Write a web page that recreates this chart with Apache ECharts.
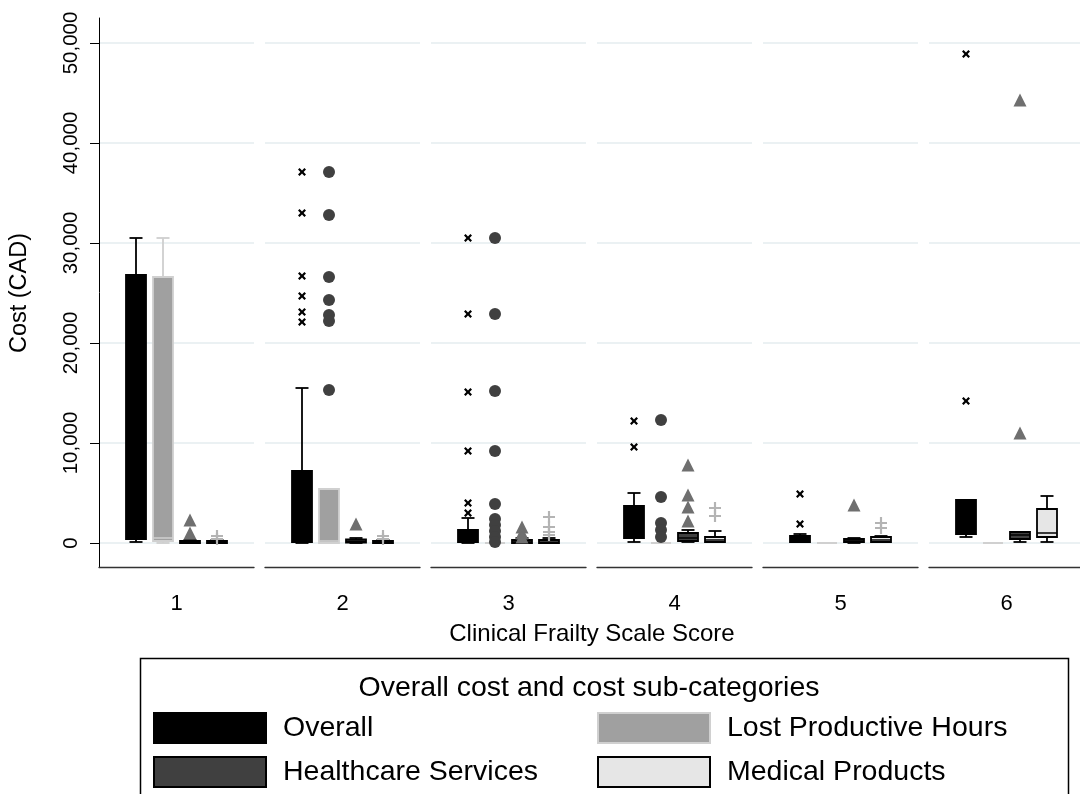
<!DOCTYPE html>
<html>
<head>
<meta charset="utf-8">
<script src="https://cdn.jsdelivr.net/npm/echarts@6/dist/echarts.min.js"></script>
<style>html,body{margin:0;padding:0;background:#fff}#c{width:1080px;height:794px}</style>
</head>
<body>
<div id="c"></div>
<script>
// ---------- data ----------
const panels = ['1', '2', '3', '4', '5', '6'];               // Clinical Frailty Scale score
const subCategories = ['Overall', 'Lost Productive Hours', 'Healthcare Services', 'Medical Products'];
const yTicks = [0, 10000, 20000, 30000, 40000, 50000];

// box stats per panel: [lower whisker, Q1, median, Q3, upper whisker]
const overallBox = [
  [100, 400, 700, 26800, 30500],
  [0, 100, 400, 7200, 15500],
  [0, 100, 300, 1300, 2500],
  [100, 500, 1500, 3700, 5000],
  [100, 100, 300, 700, 900],
  [600, 900, 2000, 4300, 4300]
];
const lostHoursBox = [
  [0, 200, 500, 26600, 30500],
  [0, 0, 200, 5400, 5400],
  [0, 0, 0, 0, 0],
  [0, 0, 0, 0, 0],
  [0, 0, 0, 0, 0],
  [0, 0, 0, 0, 0]
];
const healthcareBox = [
  [0, 0, 100, 200, 300],
  [0, 50, 150, 350, 500],
  [0, 0, 100, 300, 500],
  [100, 200, 500, 1000, 1300],
  [0, 100, 200, 400, 500],
  [100, 400, 800, 1100, 1100]
];
const medicalBox = [
  [0, 0, 100, 200, 300],
  [0, 0, 100, 200, 300],
  [0, 0, 100, 300, 500],
  [100, 100, 300, 600, 1200],
  [100, 100, 300, 600, 700],
  [100, 600, 1000, 3400, 4700]
];

// outside values per panel
const overallOut = [
  [],
  [37100, 33000, 26700, 24700, 23100, 22100],
  [30500, 22900, 15100, 9200, 4000, 3000],
  [12200, 9600],
  [4900, 1900],
  [48900, 14200]
];
const lostHoursOut = [
  [],
  [37100, 32800, 26600, 24300, 22800, 22200, 15300],
  [30500, 22900, 15200, 9200, 3900, 2400, 1800, 1200, 600, 100],
  [12300, 4600, 2000, 1300, 600],
  [],
  []
];
const healthcareOut = [
  [2300, 1000],
  [1900],
  [1600, 1000, 600],
  [7800, 4800, 3600, 2200],
  [3800],
  [44300, 11000]
];
const medicalOut = [
  [700, 400],
  [700, 400],
  [2600, 1600, 1100, 800],
  [3500, 2700],
  [2000, 1500],
  []
];

// ---------- styles ----------
const FONT = 'Liberation Sans, Arial, sans-serif';
const TICK_FONT = '"Liberation Sans Narrow", "Arial Narrow", "Liberation Sans", Arial, sans-serif';
const boxStyles = [
  { fill: '#000000', stroke: '#000000', whisker: '#000000' },
  { fill: '#a0a0a0', stroke: '#d0d0d0', whisker: '#cfcfcf' },
  { fill: '#404040', stroke: '#000000', whisker: '#000000' },
  { fill: '#e6e6e6', stroke: '#000000', whisker: '#000000' }
];
const boxData = [overallBox, lostHoursBox, healthcareBox, medicalBox];
const outData = [overallOut, lostHoursOut, healthcareOut, medicalOut];
const X_PATH = 'path://M2,0L5,3L8,0L10,2L7,5L10,8L8,10L5,7L2,10L0,8L3,5L0,2Z';
const PLUS_PATH = 'path://M4.1,0H5.9V4.1H10V5.9H5.9V10H4.1V5.9H0V4.1H4.1Z';
const outMarkers = [
  { symbol: X_PATH, size: 8, color: '#000000' },
  { symbol: 'circle', size: 12, color: '#404040' },
  { symbol: 'triangle', size: 13, color: '#6f6f6f' },
  { symbol: PLUS_PATH, size: 12, color: '#b4b4b4' }
];

const Y_MIN = -2400, Y_MAX = 52500;
const PANEL_LEFT0 = 99, PANEL_STEP = 166, PANEL_W = 155, TOP = 18, H = 549;

function makeRender(st) {
  return function (params, api) {
    const c = api.value(0);
    const pMin = api.coord([c, api.value(1)]);
    const pQ1 = api.coord([c, api.value(2)]);
    const pMed = api.coord([c, api.value(3)]);
    const pQ3 = api.coord([c, api.value(4)]);
    const pMax = api.coord([c, api.value(5)]);
    const x = pQ1[0];
    const bw = 20, cw = 13;
    const wl = { stroke: st.whisker, lineWidth: 1.8, fill: null };
    return {
      type: 'group',
      children: [
        { type: 'line', shape: { x1: x, y1: pQ3[1], x2: x, y2: pMax[1] }, style: wl },
        { type: 'line', shape: { x1: x - cw / 2, y1: pMax[1], x2: x + cw / 2, y2: pMax[1] }, style: wl },
        { type: 'line', shape: { x1: x, y1: pQ1[1], x2: x, y2: pMin[1] }, style: wl },
        { type: 'line', shape: { x1: x - cw / 2, y1: pMin[1], x2: x + cw / 2, y2: pMin[1] }, style: wl },
        { type: 'rect', shape: { x: x - bw / 2, y: pQ3[1], width: bw, height: pQ1[1] - pQ3[1] },
          style: { fill: st.fill, stroke: st.stroke, lineWidth: 1.8 } },
        { type: 'line', shape: { x1: x - bw / 2, y1: pMed[1], x2: x + bw / 2, y2: pMed[1] },
          style: { stroke: st.stroke, lineWidth: 1.5 } }
      ]
    };
  };
}

const grids = [], xAxes = [], yAxes = [], series = [];
panels.forEach((p, i) => {
  const L = PANEL_LEFT0 + i * PANEL_STEP;
  const gi = grids.length;
  grids.push({ left: L, top: TOP, width: PANEL_W, height: H, outerBoundsMode: 'none', containLabel: false });
  grids.push({ left: L + 23.5, top: TOP, width: 108, height: H, outerBoundsMode: 'none', containLabel: false });
  xAxes.push({
    gridIndex: gi, type: 'category', data: [p],
    axisLine: { show: true, onZero: false, lineStyle: { color: '#333333', width: 1.4 } },
    axisTick: { show: false },
    axisLabel: { fontFamily: TICK_FONT, fontSize: 22, color: '#000', margin: 26 },
    splitLine: { show: false }
  });
  xAxes.push({
    gridIndex: gi + 1, type: 'category', data: subCategories,
    axisLine: { show: false, onZero: false }, axisTick: { show: false }, axisLabel: { show: false }, splitLine: { show: false }
  });
  yAxes.push({
    gridIndex: gi, type: 'value', min: Y_MIN, max: Y_MAX,
    axisLine: { show: i === 0, onZero: false, lineStyle: { color: '#000', width: 1 } },
    axisTick: { show: i === 0, length: 9, customValues: yTicks, lineStyle: { color: '#000', width: 1 } },
    axisLabel: {
      show: i === 0, customValues: yTicks, rotate: 90, fontFamily: TICK_FONT, fontSize: 20.5, color: '#000', margin: 17,
      formatter: v => Number(v).toLocaleString('en-US')
    },
    splitLine: { show: true, lineStyle: { color: '#e4edef', width: 1.6 } }
  });
  yAxes.push({
    gridIndex: gi + 1, type: 'value', min: Y_MIN, max: Y_MAX,
    axisLine: { show: false, onZero: false }, axisTick: { show: false }, axisLabel: { show: false }, splitLine: { show: false }
  });
  subCategories.forEach((name, k) => {
    series.push({
      type: 'custom', name: name, xAxisIndex: gi + 1, yAxisIndex: gi + 1,
      renderItem: makeRender(boxStyles[k]),
      encode: { x: 0, y: [1, 2, 3, 4, 5] },
      itemStyle: { color: boxStyles[k].fill },
      data: [[k].concat(boxData[k][i])],
      z: 3
    });
    const m = outMarkers[k];
    series.push({
      type: 'scatter', name: name + ' outliers', xAxisIndex: gi + 1, yAxisIndex: gi + 1,
      symbol: m.symbol, symbolSize: m.size,
      itemStyle: { color: m.color, opacity: 1 },
      data: outData[k][i].map(v => [k, v]),
      z: 4
    });
  });
});

const legendCommon = {
  orient: 'vertical', top: 712, height: 200, padding: 0,
  itemWidth: 112, itemHeight: 30, itemGap: 12, icon: 'rect',
  selectedMode: false,
  textStyle: { fontFamily: FONT, fontSize: 28.5, color: '#000', padding: [0, 0, 0, 12] }
};
const legendItem = k => ({
  name: subCategories[k],
  itemStyle: { color: boxStyles[k].fill, borderColor: k === 1 ? '#d0d0d0' : '#000', borderWidth: 2 }
});

const option = {
  animation: false,
  backgroundColor: '#fff',
  grid: grids, xAxis: xAxes, yAxis: yAxes, series: series,
  legend: [
    Object.assign({ left: 153, data: [legendItem(0), legendItem(2)] }, legendCommon),
    Object.assign({ left: 597, data: [legendItem(1), legendItem(3)] }, legendCommon)
  ],
  graphic: [
    { type: 'rect', shape: { x: 140.5, y: 658.5, width: 928, height: 200 },
      style: { fill: null, stroke: '#000', lineWidth: 1.5 }, silent: true },
    { type: 'text', x: 589, y: 688, style: { text: 'Overall cost and cost sub-categories', font: '28.5px ' + FONT,
      fill: '#000', textAlign: 'center', textVerticalAlign: 'middle' } },
    { type: 'text', x: 592, y: 634, style: { text: 'Clinical Frailty Scale Score', font: '24px ' + FONT,
      fill: '#000', textAlign: 'center', textVerticalAlign: 'middle' } },
    { type: 'text', x: 20, y: 293, rotation: Math.PI / 2, style: { text: 'Cost (CAD)', font: '23.5px ' + FONT,
      fill: '#000', textAlign: 'center', textVerticalAlign: 'middle' } }
  ]
};

const chart = echarts.init(document.getElementById('c'), null, { renderer: 'canvas' });
chart.setOption(option);
</script>
</body>
</html>
